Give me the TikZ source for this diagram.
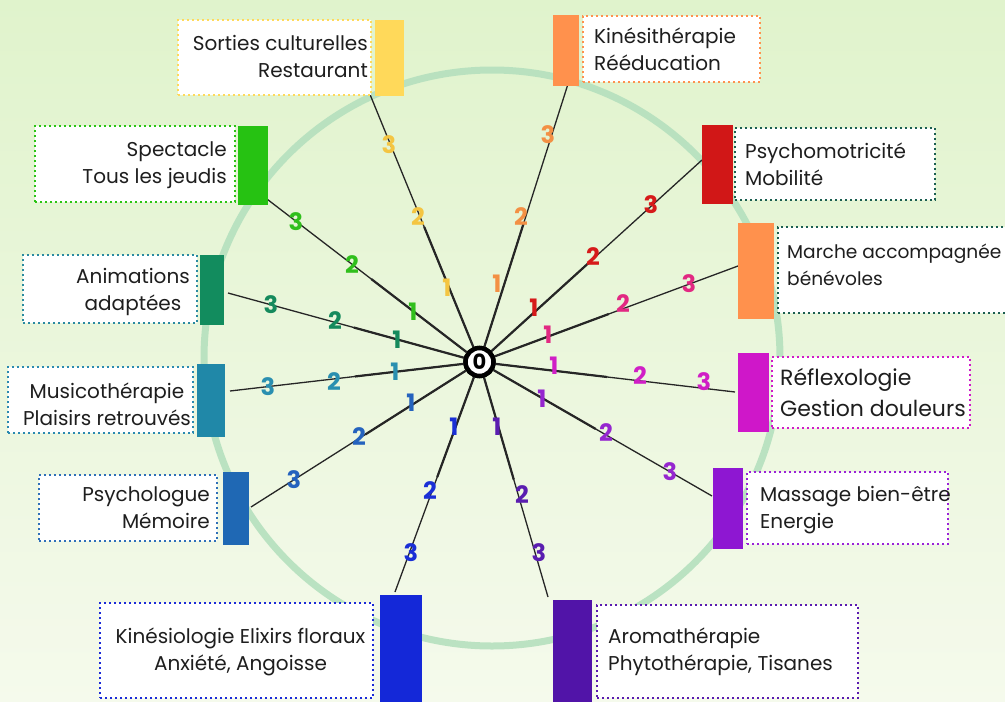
\documentclass[tikz,border=0pt]{standalone}
\usepackage{fontspec}
\setmainfont{Poppins}
\usetikzlibrary{calc}
\definecolor{bgtop}{HTML}{E0F3CC}
\definecolor{bgbot}{HTML}{F5FAEC}
\definecolor{ringc}{HTML}{B5E0BE}
\definecolor{txtc}{HTML}{1E1E1E}
% bars
\definecolor{bY}{HTML}{FFD95A}
\definecolor{bO}{HTML}{FF914D}
\definecolor{bG}{HTML}{26C212}
\definecolor{bR}{HTML}{D11717}
\definecolor{bDG}{HTML}{128C5E}
\definecolor{bT}{HTML}{2088A8}
\definecolor{bM}{HTML}{CF17C9}
\definecolor{bB}{HTML}{1F68B4}
\definecolor{bPu}{HTML}{8E17D2}
\definecolor{bBB}{HTML}{1428D8}
\definecolor{bDP}{HTML}{5114A8}
% box borders
\definecolor{kG}{HTML}{2BC414}
\definecolor{kTe}{HTML}{1B5E50}
\definecolor{kA}{HTML}{2A8AA0}
\definecolor{kT}{HTML}{2A8AB0}
\definecolor{kM}{HTML}{D01AC8}
\definecolor{kB}{HTML}{2E6FB8}
\definecolor{kPu}{HTML}{9A22D8}
\definecolor{kBB}{HTML}{1A2AD8}
\definecolor{kDP}{HTML}{5A1AB0}
% labels
\definecolor{lY}{HTML}{F4C542}
\definecolor{lO}{HTML}{F39044}
\definecolor{lG}{HTML}{30BF1C}
\definecolor{lR}{HTML}{D61A1A}
\definecolor{lDG}{HTML}{158A5C}
\definecolor{lP}{HTML}{E22882}
\definecolor{lT}{HTML}{2A8FB0}
\definecolor{lM}{HTML}{D01FC6}
\definecolor{lB}{HTML}{2563BE}
\definecolor{lPu}{HTML}{9526CF}
\definecolor{lBB}{HTML}{1A2FD6}
\definecolor{lDP}{HTML}{5A1DB0}
\begin{document}
\begin{tikzpicture}[x=1pt,y=-1pt,
  bar/.style={fill=#1, draw=none, inner sep=0pt, outer sep=0pt},
  box/.style={draw=#1, fill=white, line width=2pt, dash pattern=on 2pt off 3pt, inner sep=0pt},
  txt/.style={inner sep=0pt, text=txtc, font=\fontsize{20}{27}\selectfont},
  bigtxt/.style={inner sep=0pt, text=txtc, font=\fontsize{22}{31}\selectfont},
  num/.style={inner sep=0pt, text=#1, font=\fontsize{24}{24}\selectfont\bfseries},
  spoke/.style={draw=black!85, line width=1.3pt},
  spokein/.style={draw=black!85, line width=2.2pt},
  hub/.style={circle, draw=black, line width=4.5pt, fill=white, minimum size=28pt, inner sep=0pt,
      font=\fontsize{21}{21}\selectfont\bfseries},
]
\useasboundingbox (0,0) rectangle (1005,702);
\shade[top color=bgtop, bottom color=bgbot] (0,0) rectangle (1005,702);
\draw[ringc, line width=7pt, opacity=0.9] (492,358) circle (288pt);

% centre
\node[hub] (c0) at (479.5,362) {0};

% spoke ends
\coordinate (e1) at (369,92);
\coordinate (e2) at (568,84);
\coordinate (e3) at (263,196);
\coordinate (e4) at (702,160);
\coordinate (e5) at (228,293);
\coordinate (e6) at (738,266);
\coordinate (e7) at (230,391);
\coordinate (e8) at (735,392);
\coordinate (e9) at (251,507);
\coordinate (e10) at (712,496);
\coordinate (e11) at (395,592);
\coordinate (e12) at (548,597);

\foreach \k in {1,...,12}{
  \draw[spoke] (c0) -- (e\k);
  \draw[spokein] (c0) -- ($(c0)!0.5!(e\k)$);
}
\node[hub] (c0b) at (479.5,362) {0};

% numbers
\foreach [count=\k] \c/\n/\x/\y in {
  lY/1/447/288, lY/2/418/217, lY/3/389/145,
  lO/1/497/284, lO/2/521/217, lO/3/548/135,
  lG/1/413/312, lG/2/352/265, lG/3/296/222,
  lR/1/534/308, lR/2/593/257, lR/3/651/205,
  lDG/1/397/340, lDG/2/335/321, lDG/3/271/305,
  lP/1/548/335, lP/2/623/304, lP/3/689/284,
  lT/1/395/372, lT/2/334/382, lT/3/268/387,
  lM/1/554/366, lM/2/640/376, lM/3/704/382,
  lB/1/411/403, lB/2/359/437, lB/3/294/480,
  lPu/1/542/399, lPu/2/606/433, lPu/3/670/472,
  lBB/1/454/427, lBB/2/430/491, lBB/3/411/553,
  lDP/1/497/427, lDP/2/522/495, lDP/3/539/553}
  \node[num=\c] (n\k) at (\x,\y) {\n};

% bars
\node[bar=bY,  minimum width=29pt, minimum height=76pt] (bar1) at (389.5,58) {};
\node[bar=bO,  minimum width=26pt, minimum height=71pt] (bar2) at (566,50.5) {};
\node[bar=bG,  minimum width=30pt, minimum height=79pt] (bar3) at (253,165.5) {};
\node[bar=bR,  minimum width=31pt, minimum height=79pt] (bar4) at (717.5,164.5) {};
\node[bar=bDG, minimum width=24pt, minimum height=70pt] (bar5) at (212,290) {};
\node[bar=bO,  minimum width=36pt, minimum height=96pt] (bar6) at (756,271) {};
\node[bar=bT,  minimum width=28pt, minimum height=73pt] (bar7) at (211,400.5) {};
\node[bar=bM,  minimum width=31pt, minimum height=79pt] (bar8) at (753.5,392.5) {};
\node[bar=bB,  minimum width=26pt, minimum height=73pt] (bar9) at (236,508.5) {};
\node[bar=bPu, minimum width=30pt, minimum height=81pt] (bar10) at (728,508.5) {};
\node[bar=bBB, minimum width=42pt, minimum height=115pt] (bar11) at (401,652.5) {};
\node[bar=bDP, minimum width=39pt, minimum height=110pt] (bar12) at (572.5,655) {};

% boxes
\node[box=bY,  minimum width=193pt, minimum height=75pt] (box1) at (274.5,57.5) {};
\node[box=bO,  minimum width=177pt, minimum height=66pt] (box2) at (671.5,49) {};
\node[box=kG,  minimum width=200pt, minimum height=76pt] (box3) at (135,164) {};
\node[box=kTe, minimum width=200pt, minimum height=72pt] (box4) at (835,164) {};
\node[box=kA,  minimum width=174pt, minimum height=68pt] (box5) at (110,289) {};
\node[box=kTe, minimum width=262pt, minimum height=86pt] (box6) at (909,270) {};
\node[box=kT,  minimum width=185pt, minimum height=66pt] (box7) at (100.5,400) {};
\node[box=kM,  minimum width=198pt, minimum height=71pt] (box8) at (871,392.5) {};
\node[box=kB,  minimum width=178pt, minimum height=66pt] (box9) at (128,508) {};
\node[box=kPu, minimum width=201pt, minimum height=72pt] (box10) at (847.5,508) {};
\node[box=kBB, minimum width=273pt, minimum height=95pt] (box11) at (236.5,650.5) {};
\node[box=kDP, minimum width=261pt, minimum height=93pt] (box12) at (727.5,651.5) {};

% texts
\node[txt, anchor=east, align=right] (t1) at (368,58.1) {\strut Sorties culturelles\\\strut Restaurant};
\node[txt, anchor=west, align=left] (t2) at (594,51.6) {\strut Kinésithérapie\\\strut Rééducation};
\node[txt, anchor=east, align=right] (t3) at (227,164.6) {\strut Spectacle\\\strut Tous les jeudis};
\node[txt, anchor=west, align=left] (t4) at (745,166.6) {\strut Psychomotricité\\\strut Mobilité};
\node[txt, align=center] (t5) at (133,291.6) {\strut Animations\\\strut adaptées};
\node[txt, anchor=west, align=left, font=\fontsize{18.6}{27}\selectfont] (t6) at (787,267) {\strut Marche accompagnée\\\strut bénévoles};
\node[txt, align=center] (t7) at (107,406.6) {\strut Musicothérapie\\\strut Plaisirs retrouvés};
\node[bigtxt, anchor=west, align=left] (t8) at (780,394.3) {\strut Réflexologie\\\strut Gestion douleurs};
\node[txt, anchor=east, align=right] (t9) at (210,510) {\strut Psychologue\\\strut Mémoire};
\node[txt, anchor=west, align=left] (t10) at (760,509.6) {\strut Massage bien-être\\\strut Energie};
\node[txt, align=center] (t11) at (240.5,652) {\strut Kinésiologie Elixirs floraux\\\strut Anxiété, Angoisse};
\node[txt, anchor=west, align=left] (t12) at (608,651.6) {\strut Aromathérapie\\\strut Phytothérapie, Tisanes};
\end{tikzpicture}
\end{document}
